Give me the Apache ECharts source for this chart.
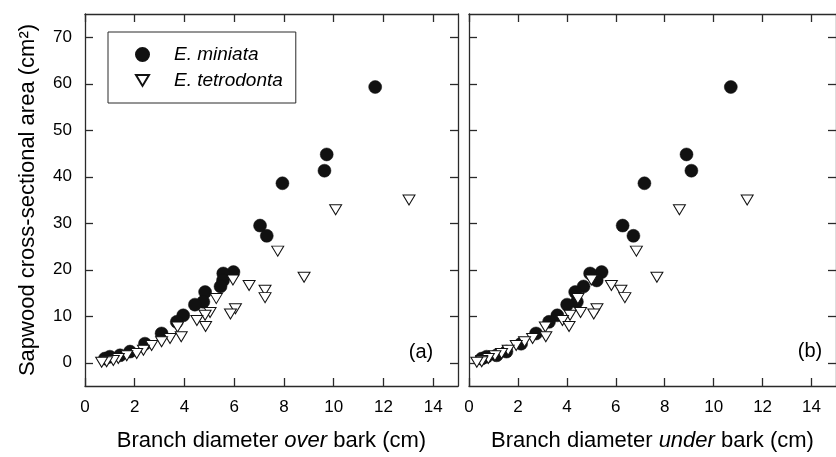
<!DOCTYPE html>
<html>
<head>
<meta charset="utf-8">
<script src="https://cdn.jsdelivr.net/npm/echarts@6/dist/echarts.min.js"></script>
<style>
html,body{margin:0;padding:0;background:#fff;}
#chart{width:836px;height:457px;}
</style>
</head>
<body>
<div id="chart"></div>
<script>
// ---- data (sapwood area cm^2 vs branch diameter cm) ----
var miniataArea  = [59.3, 44.8, 41.3, 38.6, 29.5, 27.3, 19.5, 19.2, 17.7, 16.4, 15.2, 13.1, 12.5, 10.2, 8.8, 6.3, 4.1, 2.4, 1.6, 1.3, 0.9];
var miniataOver  = [11.67, 9.72, 9.63, 7.94, 7.04, 7.31, 5.97, 5.56, 5.55, 5.45, 4.83, 4.76, 4.42, 3.95, 3.69, 3.08, 2.41, 1.81, 1.41, 1.00, 0.80];
var miniataUnder = [10.70, 8.89, 9.09, 7.17, 6.28, 6.72, 5.42, 4.95, 5.22, 4.68, 4.34, 4.41, 4.01, 3.61, 3.27, 2.74, 2.13, 1.53, 1.13, 0.72, 0.52];

var tetroArea  = [35.0, 32.9, 24.0, 18.4, 15.6, 14.0, 16.6, 17.8, 11.6, 10.5, 13.8, 10.8, 10.2, 9.1, 7.8, 7.7, 5.6, 5.2, 4.5, 3.7, 2.7, 2.0, 1.5, 0.9, 0.5, 0.2, 0.1];
var tetroOver  = [13.03, 10.08, 7.75, 8.81, 7.24, 7.24, 6.60, 5.95, 6.05, 5.85, 5.28, 5.03, 4.83, 4.50, 4.85, 3.72, 3.87, 3.42, 3.08, 2.68, 2.35, 2.08, 1.68, 1.34, 1.14, 0.87, 0.67];
var tetroUnder = [11.37, 8.60, 6.84, 7.68, 6.21, 6.37, 5.82, 5.00, 5.23, 5.10, 4.45, 4.56, 4.13, 3.82, 4.09, 3.12, 3.14, 2.60, 2.27, 1.93, 1.60, 1.33, 1.06, 0.79, 0.52, 0.52, 0.32];

var xTicks = [0, 2, 4, 6, 8, 10, 12, 14];
var yTicks = [0, 10, 20, 30, 40, 50, 60, 70];
var speciesNames = ['E. miniata', 'E. tetrodonta'];
var xTitlesBefore = ['Branch diameter ', 'Branch diameter '];
var xTitlesItalic = ['over', 'under'];
var xTitlesAfter = [' bark (cm)', ' bark (cm)'];
var yTitle = 'Sapwood cross-sectional area (cm\u00B2)';
var panelLabels = ['(a)', '(b)'];

function pairs(xs, ys) { return xs.map(function (x, i) { return [x, ys[i]]; }); }

var FONT = "'Liberation Sans', Arial, Helvetica, sans-serif";
var LINE = '#2a2a2a';
var TRI = 'path://M0,0L12,0L6,10Z';

function xAx(grid, pos, withLabels) {
  var a = {
    gridIndex: grid, type: 'value', position: pos, min: 0, max: 15,
    axisLine: { show: true, onZero: false, lineStyle: { color: LINE, width: 1.3 } },
    axisTick: { show: true, inside: true, length: 8, customValues: xTicks, lineStyle: { color: LINE, width: 1.3 } },
    axisLabel: { show: withLabels, customValues: xTicks, margin: 13, fontSize: 17, color: '#000', fontFamily: FONT },
    splitLine: { show: false }
  };
  if (withLabels) {
    a.name = '{n|' + xTitlesBefore[grid] + '}{i|' + xTitlesItalic[grid] + '}{n|' + xTitlesAfter[grid] + '}';
    a.nameLocation = 'middle';
    a.nameGap = 44;
    a.nameTextStyle = {
      fontSize: 22, color: '#000', fontFamily: FONT,
      rich: { n: { fontSize: 22, color: '#000', fontFamily: FONT }, i: { fontSize: 22, color: '#000', fontFamily: FONT, fontStyle: 'italic' } }
    };
  }
  return a;
}
function yAx(grid, pos, withLabels) {
  var a = {
    gridIndex: grid, type: 'value', position: pos, min: -5, max: 75,
    axisLine: { show: true, onZero: false, lineStyle: { color: LINE, width: 1.3 } },
    axisTick: { show: true, inside: true, length: 8, customValues: yTicks, lineStyle: { color: LINE, width: 1.3 } },
    axisLabel: { show: withLabels, customValues: yTicks, margin: 13, fontSize: 17, color: '#000', fontFamily: FONT },
    splitLine: { show: false }
  };
  if (withLabels) {
    a.name = yTitle;
    a.nameLocation = 'middle';
    a.nameGap = 46;
    a.nameTextStyle = { fontSize: 22, color: '#000', fontFamily: FONT };
  }
  return a;
}

var circleStyle = { color: '#111', borderColor: '#111', borderWidth: 0.5, opacity: 1 };
var triStyle = { color: '#fff', borderColor: '#111', borderWidth: 1, opacity: 1 };

var option = {
  animation: false,
  backgroundColor: '#fff',
  textStyle: { fontFamily: FONT },
  grid: [
    { left: 85, top: 14, width: 373, height: 373 },
    { left: 469, top: 14, width: 373, height: 373 }
  ],
  xAxis: [xAx(0, 'bottom', true), xAx(0, 'top', false), xAx(1, 'bottom', true), xAx(1, 'top', false)],
  yAxis: [yAx(0, 'left', true), yAx(0, 'right', false), yAx(1, 'left', false), yAx(1, 'right', false)],
  legend: {
    left: 108, top: 32, orient: 'vertical',
    padding: [13, 13, 13, 27],
    itemGap: 7,
    itemWidth: 13, itemHeight: 13,
    borderColor: LINE, borderWidth: 1, backgroundColor: '#fff',
    data: [{ name: speciesNames[0], icon: 'circle' }, { name: speciesNames[1], icon: TRI }],
    formatter: function (name) { return '{s|}{t|' + name + '}'; },
    textStyle: {
      fontSize: 19, color: '#000', fontFamily: FONT,
      rich: { s: { width: 20 }, t: { fontSize: 19, fontStyle: 'italic', color: '#000', fontFamily: FONT } }
    },
    selectedMode: false
  },
  graphic: [
    { type: 'text', x: 421, y: 352, style: { text: panelLabels[0], fontSize: 20, fontFamily: FONT, fill: '#000', align: 'center', verticalAlign: 'middle' } },
    { type: 'text', x: 810, y: 351, style: { text: panelLabels[1], fontSize: 20, fontFamily: FONT, fill: '#000', align: 'center', verticalAlign: 'middle' } }
  ],
  series: [
    { name: speciesNames[0], type: 'scatter', xAxisIndex: 0, yAxisIndex: 0, symbol: 'circle', symbolSize: 13, itemStyle: circleStyle, data: pairs(miniataOver, miniataArea) },
    { name: speciesNames[0], type: 'scatter', xAxisIndex: 2, yAxisIndex: 2, symbol: 'circle', symbolSize: 13, itemStyle: circleStyle, data: pairs(miniataUnder, miniataArea) },
    { name: speciesNames[1], type: 'scatter', xAxisIndex: 0, yAxisIndex: 0, symbol: 'triangle', symbolRotate: 180, symbolSize: [12, 10], itemStyle: triStyle, data: pairs(tetroOver, tetroArea) },
    { name: speciesNames[1], type: 'scatter', xAxisIndex: 2, yAxisIndex: 2, symbol: 'triangle', symbolRotate: 180, symbolSize: [12, 10], itemStyle: triStyle, data: pairs(tetroUnder, tetroArea) }
  ]
};

var chart = echarts.init(document.getElementById('chart'), null, { renderer: 'canvas' });
chart.setOption(option);
</script>
</body>
</html>
